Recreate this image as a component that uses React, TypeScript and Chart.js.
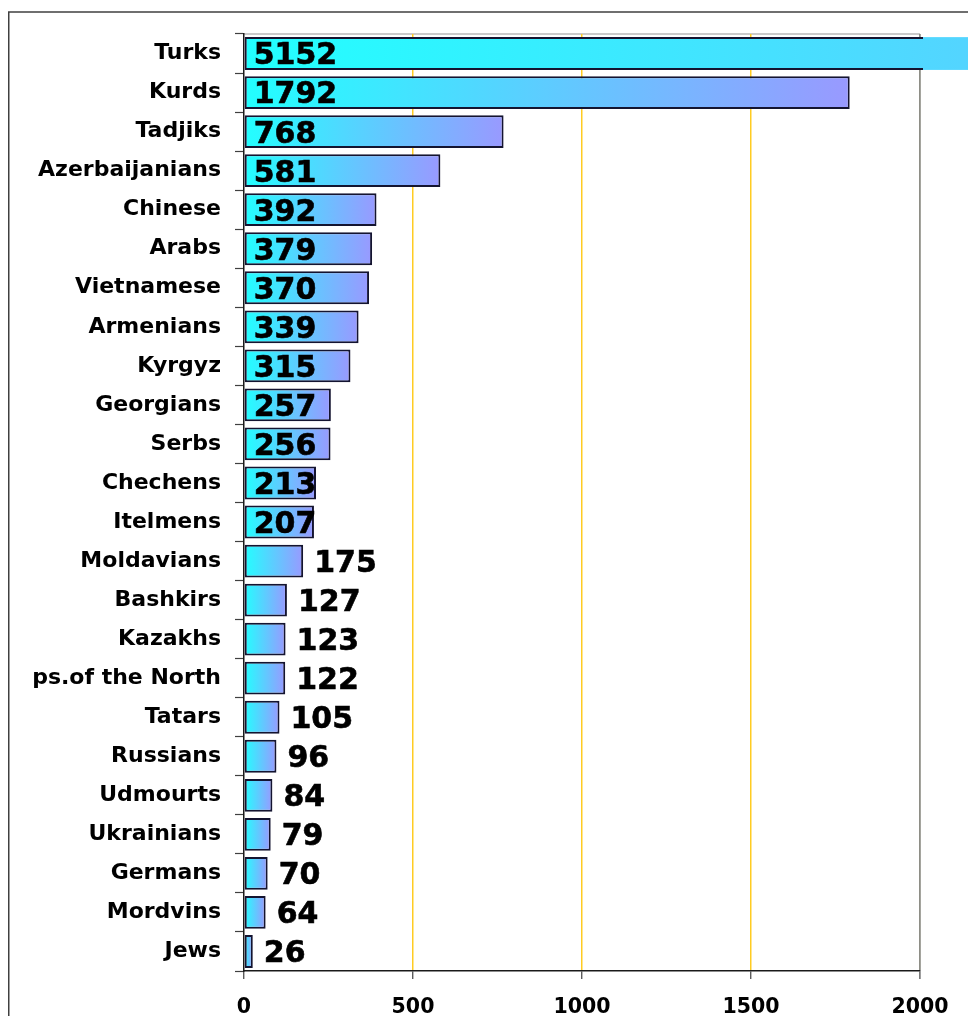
import React, { useEffect, useRef } from "react";
import { Chart, registerables } from "chart.js";

Chart.register(...registerables);

const categories = [
  "Turks", "Kurds", "Tadjiks", "Azerbaijanians", "Chinese", "Arabs", "Vietnamese",
  "Armenians", "Kyrgyz", "Georgians", "Serbs", "Chechens", "Itelmens", "Moldavians",
  "Bashkirs", "Kazakhs", "ps.of the North", "Tatars", "Russians", "Udmourts",
  "Ukrainians", "Germans", "Mordvins", "Jews",
];

const values = [
  5152, 1792, 768, 581, 392, 379, 370, 339, 315, 257, 256, 213, 207, 175,
  127, 123, 122, 105, 96, 84, 79, 70, 64, 26,
];

const xMin = 0;
const xMax = 2000;
const xStep = 500;

const FONT = "'DejaVu Sans', 'Liberation Sans', sans-serif";
const COLOR_START = "#22ffff";
const COLOR_END = "#9999ff";

function barGradient(ctx: CanvasRenderingContext2D, base: number, end: number) {
  const g = ctx.createLinearGradient(base, 0, end, 0);
  g.addColorStop(0, COLOR_START);
  g.addColorStop(1, COLOR_END);
  return g;
}

const framePlugin = {
  id: "frame",
  beforeDraw(chart: any) {
    const ctx = chart.ctx;
    const a = chart.chartArea;
    ctx.save();
    ctx.fillStyle = "#ffffff";
    ctx.fillRect(0, 0, chart.width, chart.height);
    ctx.strokeStyle = "#404040";
    ctx.lineWidth = 1.5;
    ctx.strokeRect(8.75, 12, chart.width + 20, chart.height + 20);
    ctx.strokeStyle = "#b8b8b8";
    ctx.lineWidth = 1.5;
    ctx.beginPath();
    ctx.moveTo(a.left, a.top);
    ctx.lineTo(a.right, a.top);
    ctx.stroke();
    ctx.restore();
  },
};

const overflowAndLabelsPlugin = {
  id: "overflowAndLabels",
  afterDatasetsDraw(chart: any) {
    const ctx = chart.ctx;
    const a = chart.chartArea;
    const meta = chart.getDatasetMeta(0);
    const ds = chart.data.datasets[0];
    ctx.save();
    // fill of bars running past the plot area (no outline there)
    meta.data.forEach((el: any) => {
      const p = el.getProps(["x", "y", "base", "height"], true);
      const edge = a.right + 3;
      if (p.x > edge) {
        ctx.fillStyle = barGradient(ctx, p.base, p.x);
        ctx.fillRect(edge, p.y - p.height / 2, p.x - edge, p.height);
      }
    });
    // value labels
    const size = 30;
    ctx.font = `bold ${size}px ${FONT}`;
    ctx.fillStyle = "#000000";
    ctx.strokeStyle = "#000000";
    ctx.lineWidth = 0.6;
    ctx.textAlign = "left";
    ctx.textBaseline = "alphabetic";
    meta.data.forEach((el: any, i: number) => {
      const p = el.getProps(["x", "y", "base"], true);
      const text = String(ds.data[i]);
      const w = ctx.measureText(text).width;
      const barW = p.x - p.base;
      const tx = barW >= w ? p.base + 9 : p.x + 11;
      const ty = p.y + (size * 0.729) / 2;
      ctx.fillText(text, tx, ty);
      ctx.strokeText(text, tx, ty);
    });
    ctx.restore();
  },
};

export default function App() {
  const ref = useRef<HTMLCanvasElement>(null);

  useEffect(() => {
    if (!ref.current) return;
    const chart = new Chart(ref.current, {
      type: "bar",
      data: {
        labels: categories,
        datasets: [
          {
            data: values,
            backgroundColor: (c: any) => {
              const ch = c.chart;
              const xs = ch.scales && ch.scales.x;
              if (!xs || !ch.chartArea || typeof c.raw !== "number") return COLOR_START;
              return barGradient(ch.ctx, xs.getPixelForValue(0), xs.getPixelForValue(c.raw));
            },
            borderColor: "#141430",
            borderWidth: 2,
            borderSkipped: false,
            categoryPercentage: 1,
            barPercentage: 0.84,
            clip: { left: false, top: false, bottom: false, right: 3 } as any,
          },
        ],
      },
      options: {
        indexAxis: "y",
        animation: false,
        responsive: true,
        maintainAspectRatio: false,
        layout: { padding: { left: 0, top: 34, right: 48, bottom: 0 } },
        plugins: {
          legend: { display: false },
          tooltip: { enabled: false },
          title: { display: false },
        },
        scales: {
          x: {
            type: "linear",
            min: xMin,
            max: xMax,
            afterFit: (scale: any) => {
              scale.height = 45;
            },
            ticks: {
              stepSize: xStep,
              maxRotation: 0,
              autoSkip: false,
              color: "#000000",
              padding: 16,
              font: { family: FONT, size: 20.5, weight: "bold" },
              callback: (v: any) => String(v),
            },
            grid: {
              color: (c: any) =>
                c.tick && c.tick.value === xMin
                  ? "rgba(0,0,0,0)"
                  : c.tick && c.tick.value === xMax
                  ? "#8e8e86"
                  : "#ffcc22",
              lineWidth: (c: any) => (c.tick && c.tick.value === xMax ? 1.8 : 1.5),
              tickColor: "#404040",
              tickLength: 8,
              tickWidth: 1.2,
            },
            border: { display: true, color: "#1a1a1a", width: 1.5 },
          },
          y: {
            type: "category",
            afterFit: (scale: any) => {
              scale.width = 244;
            },
            ticks: {
              color: "#000000",
              padding: 14,
              autoSkip: false,
              font: { family: FONT, size: 22, weight: "bold" },
            },
            grid: {
              offset: true,
              drawOnChartArea: false,
              drawTicks: true,
              tickLength: 9,
              color: "#404040",
              tickColor: "#404040",
              tickWidth: 1.2,
            },
            border: { display: true, color: "#1a1a1a", width: 1.5 },
          },
        },
      },
      plugins: [framePlugin, overflowAndLabelsPlugin],
    } as any);
    return () => chart.destroy();
  }, []);

  return (
    <div style={{ position: "absolute", left: 0, top: 0, width: 968, height: 1016 }}>
      <canvas ref={ref} />
    </div>
  );
}
